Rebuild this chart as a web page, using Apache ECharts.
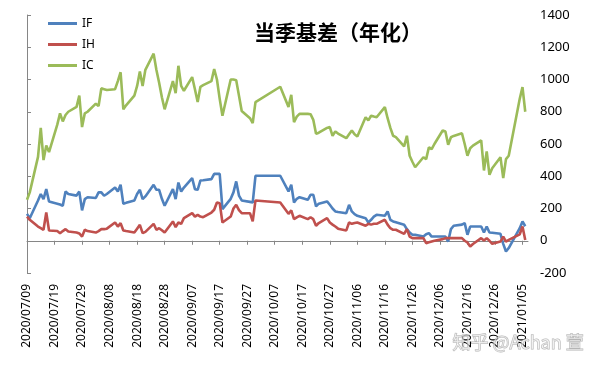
<!DOCTYPE html>
<html>
<head>
<meta charset="utf-8">
<script src="https://cdn.jsdelivr.net/npm/echarts@6/dist/echarts.min.js"></script>
<style>html,body{margin:0;padding:0;background:#fff}#c{width:600px;height:368px}</style>
</head>
<body>
<div id="c"></div>
<script>
var startDate = '2020-07-09';
var dates = ['2020-07-09','2020-07-10','2020-07-13','2020-07-14','2020-07-15','2020-07-16','2020-07-17','2020-07-20','2020-07-21','2020-07-22','2020-07-23','2020-07-24','2020-07-27','2020-07-28','2020-07-29','2020-07-30','2020-07-31',
'2020-08-03','2020-08-04','2020-08-05','2020-08-06','2020-08-07','2020-08-10','2020-08-11','2020-08-12','2020-08-13','2020-08-14','2020-08-17','2020-08-18','2020-08-19','2020-08-20','2020-08-21','2020-08-24','2020-08-25','2020-08-26','2020-08-27','2020-08-28','2020-08-31',
'2020-09-01','2020-09-02','2020-09-03','2020-09-04','2020-09-07','2020-09-08','2020-09-09','2020-09-10','2020-09-11','2020-09-14','2020-09-15','2020-09-16','2020-09-17','2020-09-18','2020-09-21','2020-09-22','2020-09-23','2020-09-24','2020-09-25','2020-09-28','2020-09-29','2020-09-30',
'2020-10-09','2020-10-12','2020-10-13','2020-10-14','2020-10-15','2020-10-16','2020-10-19','2020-10-20','2020-10-21','2020-10-22','2020-10-23','2020-10-26','2020-10-27','2020-10-28','2020-10-29','2020-10-30',
'2020-11-02','2020-11-03','2020-11-04','2020-11-05','2020-11-06','2020-11-09','2020-11-10','2020-11-11','2020-11-12','2020-11-13','2020-11-16','2020-11-17','2020-11-18','2020-11-19','2020-11-20','2020-11-23','2020-11-24','2020-11-25','2020-11-26','2020-11-27','2020-11-30',
'2020-12-01','2020-12-02','2020-12-03','2020-12-04','2020-12-07','2020-12-08','2020-12-09','2020-12-10','2020-12-11','2020-12-14','2020-12-15','2020-12-16','2020-12-17','2020-12-18','2020-12-21','2020-12-22','2020-12-23','2020-12-24','2020-12-25','2020-12-28','2020-12-29','2020-12-30','2020-12-31',
'2021-01-04','2021-01-05','2021-01-06'];

var ifValues = [167,140,250,290,258,320,243,230,225,217,305,290,280,305,188,258,270,
265,300,300,279,290,330,305,347,229,235,250,290,316,258,275,347,316,316,260,217,320,
258,361,305,330,388,320,316,374,375,382,415,415,415,196,260,300,368,280,250,241,237,403,
403,306,347,237,260,270,254,285,285,213,230,244,223,200,182,178,
171,223,182,165,155,140,113,130,150,161,155,182,130,120,115,99,72,51,37,37,26,
40,47,26,26,26,26,-5,72,93,100,109,37,88,88,88,51,88,51,50,43,-19,-67,-45,
78,120,90];

var ihValues = [150,130,88,78,68,175,64,60,47,60,72,57,51,45,26,68,60,
51,60,72,72,75,113,88,109,64,60,51,75,99,47,55,105,68,78,65,51,120,
84,113,105,140,171,150,161,150,146,175,192,237,233,113,150,200,223,190,171,171,120,250,
237,167,188,134,145,155,134,146,134,93,110,140,113,100,88,75,
64,113,105,110,113,93,105,100,105,105,130,100,78,68,68,43,72,26,16,16,16,
-15,-10,-5,0,10,16,16,16,16,16,0,-11,-36,-20,16,2,16,0,-19,-5,26,-5,5,
40,88,5];

var icValues = [254,300,520,700,500,590,550,720,790,740,780,800,830,900,705,790,800,
850,835,945,940,935,940,990,1045,815,840,900,960,1050,960,1060,1160,1060,980,890,815,990,
915,1085,960,930,1015,940,860,955,965,990,1065,1000,880,775,1000,1000,995,900,805,760,730,860,
955,830,905,735,770,787,787,785,750,663,670,700,705,651,678,665,
636,660,684,660,647,766,746,775,770,766,829,760,700,651,643,585,651,527,490,456,518,
506,580,568,600,684,678,595,642,650,667,600,527,574,590,622,436,554,409,450,518,388,506,527,
880,953,800];

var yTicks = [-200, 0, 200, 400, 600, 800, 1000, 1200, 1400];
var seriesNames = ['IF', 'IH', 'IC'];

function dayIndex(s) {
  var p = s.split('-'), q = startDate.split('-');
  return Math.round((Date.UTC(+p[0], +p[1]-1, +p[2]) - Date.UTC(+q[0], +q[1]-1, +q[2])) / 86400000);
}
function dayLabel(v) {
  var q = startDate.split('-');
  var d = new Date(Date.UTC(+q[0], +q[1]-1, +q[2]) + v * 86400000);
  var mm = ('0' + (d.getUTCMonth() + 1)).slice(-2), dd = ('0' + d.getUTCDate()).slice(-2);
  return d.getUTCFullYear() + '/' + mm + '/' + dd;
}
function pairs(vals) {
  return dates.map(function (d, i) { return [dayIndex(d), vals[i]]; });
}

var colors = ['#4F81BD', '#C0504D', '#9BBB59'];
var chart = echarts.init(document.getElementById('c'), null, {renderer: 'canvas'});
chart.setOption({
  animation: false,
  backgroundColor: '#ffffff',
  color: colors,
  title: {
    text: '当季基差（年化）',
    left: 333, top: 17, textAlign: 'center',
    textStyle: {fontFamily: 'Noto Sans CJK SC', fontWeight: 'bold', fontSize: 21, color: '#000'}
  },
  legend: {
    orient: 'vertical', left: 43, top: 11,
    itemWidth: 29, itemHeight: 3, itemGap: 6, icon: 'rect',
    textStyle: {fontFamily: 'Noto Sans', fontSize: 12, color: '#000', lineHeight: 15},
    data: seriesNames
  },
  grid: {left: 27, right: 72, top: 15, bottom: 95, containLabel: false, outerBoundsMode: 'none'},
  xAxis: {
    type: 'value', min: 0, max: 182, interval: 10,
    axisLine: {onZero: true, lineStyle: {color: '#868686', width: 1}},
    axisTick: {show: true, length: 4, lineStyle: {color: '#868686'}},
    splitLine: {show: false},
    axisLabel: {
      rotate: 90, margin: 11, showMaxLabel: false,
      fontFamily: 'Noto Sans', fontSize: 12, color: '#000',
      formatter: function (v) { return dayLabel(v); }
    }
  },
  yAxis: {
    type: 'value', position: 'right', min: yTicks[0], max: yTicks[yTicks.length - 1], interval: 200,
    axisLine: {show: true, lineStyle: {color: '#868686', width: 1}},
    axisTick: {show: true, length: 4, lineStyle: {color: '#868686'}},
    splitLine: {show: false},
    axisLabel: {margin: 12, fontFamily: 'Noto Sans', fontSize: 13, color: '#000',
      formatter: function (v) { return String(v); }}
  },
  series: [
    {name: seriesNames[0], type: 'line', data: pairs(ifValues), showSymbol: false, lineStyle: {width: 2.6, color: colors[0]}, z: 3},
    {name: seriesNames[1], type: 'line', data: pairs(ihValues), showSymbol: false, lineStyle: {width: 2.6, color: colors[1]}, z: 4},
    {name: seriesNames[2], type: 'line', data: pairs(icValues), showSymbol: false, lineStyle: {width: 2.6, color: colors[2]}, z: 2}
  ],
  graphic: [{
    type: 'text', left: 452, top: 333, z: 100,
    style: {text: '知乎 @Achan 萱', fontFamily: 'Noto Sans CJK SC', fontSize: 18, fill: 'rgba(255,255,255,0.55)', stroke: 'rgba(120,120,120,0.55)', lineWidth: 1}
  }]
});
</script>
</body>
</html>
